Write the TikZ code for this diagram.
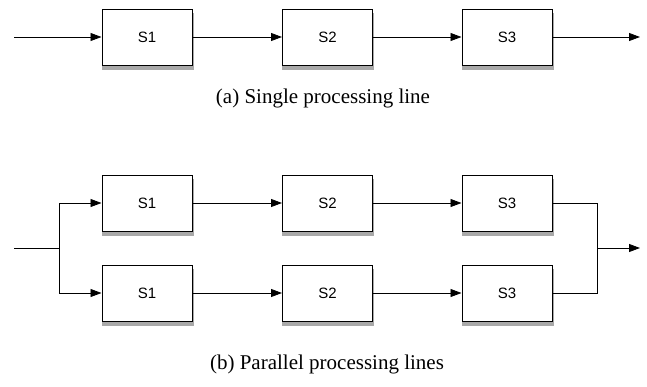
\documentclass[tikz,border=0pt]{standalone}
\usepackage{fontspec}
\setmainfont{Liberation Serif}
\newfontfamily\boxfont{Liberation Sans}
\usetikzlibrary{arrows.meta,positioning,shadows}
\tikzset{
  stagebox/.style={draw, line width=1pt, fill=white, minimum width=90pt, minimum height=56pt,
    font=\boxfont\fontsize{15}{17}\selectfont,
    drop shadow={shadow xshift=0.8pt, shadow yshift=-4pt, shadow scale=1.02, fill=black!75, opacity=0.45}},
  arr/.style={-{Triangle[length=11pt,width=8pt]}, line width=0.8pt},
  wire/.style={line width=0.8pt},
  caption/.style={font=\fontsize{21}{24}\selectfont}
}
\begin{document}
\begin{tikzpicture}[x=1pt,y=-1pt]
  \useasboundingbox (0,0) rectangle (647,386);
  % (a) single line
  \foreach \i/\x in {1/147,2/327.5,3/507} {
    \node[stagebox] (a\i) at (\x,37) {S\i};
  }
  \coordinate (ain) at (14,37);
  \coordinate (aout) at (640,37);
  \draw[arr] (ain) -- (a1);
  \draw[arr] (a1) -- (a2);
  \draw[arr] (a2) -- (a3);
  \draw[arr] (a3) -- (aout);
  \node[caption] (capa) at (323,98) {(a) Single processing line};
  % (b) parallel lines
  \foreach \i/\x in {1/147,2/327.5,3/507} {
    \node[stagebox] (b\i) at (\x,203) {S\i};
    \node[stagebox] (c\i) at (\x,293) {S\i};
  }
  \coordinate (bin) at (14,248);
  \coordinate (split) at (59,248);
  \coordinate (join) at (597,248);
  \coordinate (bout) at (640,248);
  \draw[wire] (bin) -- (split);
  \draw[arr] (split) |- (b1);
  \draw[arr] (split) |- (c1);
  \foreach \r in {b,c} {
    \draw[arr] (\r1) -- (\r2);
    \draw[arr] (\r2) -- (\r3);
  }
  \draw[wire] (b3.east) -| (join) |- (c3.east);
  \draw[arr] (join) -- (bout);
  \node[caption] (capb) at (327,364) {(b) Parallel processing lines};
\end{tikzpicture}
\end{document}
